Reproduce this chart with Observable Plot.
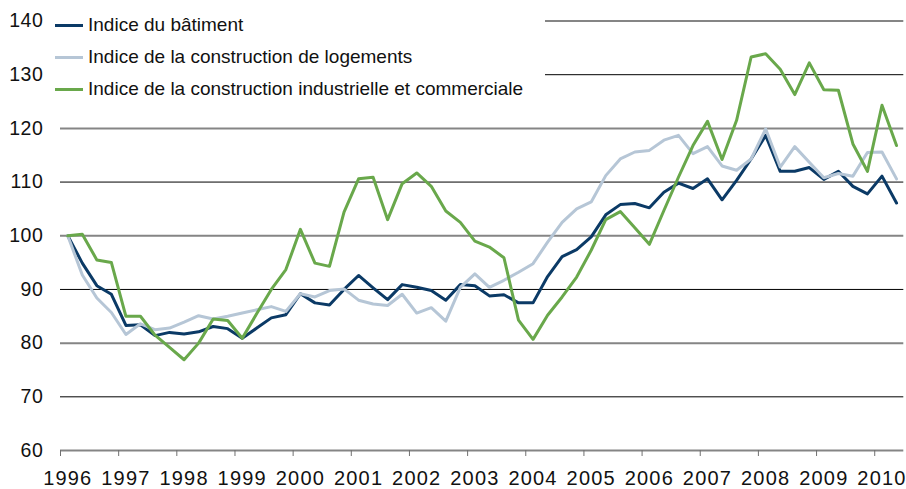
<!DOCTYPE html>
<html><head><meta charset="utf-8">
<script src="https://cdn.jsdelivr.net/npm/d3@7"></script>
<script src="https://cdn.jsdelivr.net/npm/@observablehq/plot@0.6"></script>
<style>
body{margin:0;background:#fff;font-family:"Liberation Sans",Arial,sans-serif;}
#wrap{position:relative;width:906px;height:489px;}
#legend{position:absolute;left:48px;top:0;width:497px;height:104px;background:#fff;}
.item{position:absolute;left:7px;height:22px;display:flex;align-items:center;font-size:19px;color:#111;white-space:nowrap;}
.sw{width:28px;height:3px;margin-right:5px;}
g[aria-label="x-axis tick label"] text{letter-spacing:1.2px;}
g[aria-label="y-axis tick label"] text{letter-spacing:0.6px;}
</style></head><body><div id="wrap"><div id="legend"></div></div>
<script>
const years = [1996,1997,1998,1999,2000,2001,2002,2003,2004,2005,2006,2007,2008,2009,2010];
const seriesNames = ["Indice du bâtiment","Indice de la construction de logements","Indice de la construction industrielle et commerciale"];
const seriesColors = ["#0b3a66","#b6c6d6","#69a84b"];
const batiment = [100,94.9,90.7,89.1,83.3,83.4,81.4,82.0,81.7,82.1,83.1,82.7,80.9,82.8,84.7,85.3,89.2,87.5,87.1,90.0,92.6,90.3,88.1,90.9,90.4,89.8,88.0,90.9,90.7,88.8,89.0,87.5,87.5,92.4,96.1,97.4,99.8,103.9,105.8,106.0,105.2,108.1,109.8,108.8,110.6,106.7,110.3,114.3,118.7,112.0,112.0,112.7,110.5,112.0,109.2,107.8,111.1,106.1];
const logements = [100,92.7,88.4,85.7,81.6,83.6,82.5,82.8,83.9,85.1,84.5,85.0,85.6,86.2,86.8,85.9,89.2,88.6,89.8,90.1,88.0,87.3,87.0,89.1,85.6,86.6,84.1,90.4,92.9,90.4,91.7,93.2,94.8,98.8,102.5,105.0,106.3,111.2,114.3,115.6,115.9,117.8,118.7,115.3,116.6,113.0,112.2,114.3,119.9,112.8,116.6,113.7,110.8,111.6,111.1,115.5,115.6,110.6];
const industrielle = [100,100.3,95.5,95.0,85.0,85.0,81.5,79.2,76.9,80.0,84.5,84.2,80.9,85.5,90.0,93.7,101.2,94.9,94.3,104.4,110.6,110.9,103.0,109.7,111.7,109.2,104.6,102.5,99.0,97.9,95.9,84.3,80.7,85.2,88.6,92.3,97.3,103.0,104.5,101.5,98.4,104.7,110.9,116.8,121.3,114.2,121.5,133.3,133.9,131.0,126.3,132.2,127.2,127.1,117.1,112.0,124.3,116.8];
const yTicks = [60,70,80,90,100,110,120,130,140];

const allSeries = [batiment, logements, industrielle];
const n = batiment.length;
const data = allSeries.flatMap((vals, s) => vals.map((v, i) => ({i, v, s: seriesNames[s]})));
const yearStartIdx = years.map((y, k) => k * 4);
const boundaries = yearStartIdx.map(i => i - 0.5);

const chart = Plot.plot({
  width: 906, height: 489,
  marginLeft: 60, marginRight: 2.7, marginTop: 20.5, marginBottom: 39,
  x: {type: "linear", domain: [-0.5, n - 0.5], label: null},
  y: {domain: [60, 140], label: null},
  style: {fontFamily: "'Liberation Sans', Arial, sans-serif", fontSize: "19.5px", color: "#111", background: "#fff", overflow: "visible"},
  marks: [
    Plot.ruleY(yTicks.filter(d => (d - 60) % 20 === 0), {y: d => d, stroke: "#858585", strokeWidth: 2}),
    Plot.ruleY(yTicks.filter(d => (d - 60) % 20 !== 0), {y: d => d, stroke: "#000", strokeWidth: 1}),
    Plot.axisY({ticks: yTicks, tickSize: 0, tickPadding: 17, label: null}),
    Plot.axisX({ticks: boundaries, tickSize: 6, tickFormat: () => "", stroke: "#707070", label: null}),
    Plot.axisX({ticks: yearStartIdx, tickSize: 0, tickPadding: 20, fontSize: 20, tickFormat: i => String(years[i / 4]), label: null}),
    ...seriesNames.map((name, s) => Plot.line(data.filter(d => d.s === name), {x: "i", y: "v", stroke: seriesColors[s], strokeWidth: 3, strokeLinejoin: "round"}))
  ]
});
document.getElementById("wrap").insertBefore(chart, document.getElementById("legend"));
const legend = document.getElementById("legend");
const legendCenters = [25, 57, 89];
seriesNames.forEach((name, s) => {
  const it = document.createElement("div");
  it.className = "item";
  it.style.top = (legendCenters[s] - 11) + "px";
  it.innerHTML = `<span class="sw" style="background:${seriesColors[s]}"></span><span>${name}</span>`;
  legend.appendChild(it);
});
</script>
</body></html>
